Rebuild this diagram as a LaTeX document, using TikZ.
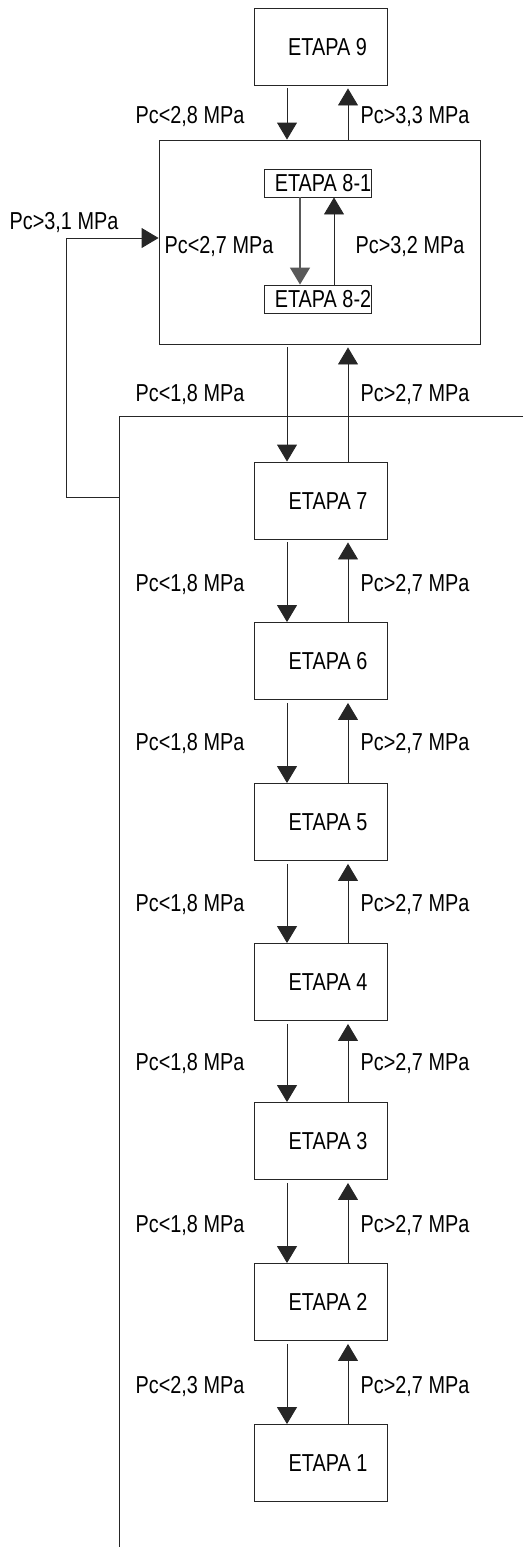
\documentclass[tikz,border=0pt]{standalone}
\usepackage{fontspec}
\setmainfont{Liberation Sans}[FakeStretch=0.81]
\usetikzlibrary{arrows.meta,calc}
\begin{document}
\begin{tikzpicture}[x=1pt,y=-1pt,
  ln/.style={line width=0.9pt,draw=black!85},
  stage/.style={ln,minimum width=133pt,minimum height=77pt,inner sep=0pt,
    text height=17pt,text depth=0pt},
  substage/.style={ln,minimum width=106pt,minimum height=28pt,inner sep=0pt,
    text height=17pt,text depth=0pt},
  lbl/.style={inner sep=0pt,text height=17pt,text depth=0pt},
  arr/.style={ln,-{Triangle[width=20pt,length=17pt]}},
  font=\fontsize{24.5}{27}\selectfont]
\useasboundingbox (0,0) rectangle (523,1547);

% columns of the down and up transitions
\coordinate (dn) at (287,0);
\coordinate (up) at (348,0);

% stages
\node[stage] (e9) at (320.5,46.5) {\hspace*{14pt}ETAPA 9};
\node[ln,minimum width=321pt,minimum height=204pt,inner sep=0pt] (e8) at (319.5,242) {};
\node[substage] (e81) at (318,183) {\hspace*{10pt}ETAPA 8-1};
\node[substage] (e82) at (318,299) {\hspace*{10pt}ETAPA 8-2};
\node[stage] (e7) at (320.5,500.5) {\hspace*{15pt}ETAPA 7};
\node[stage] (e6) at (320.5,661) {\hspace*{15pt}ETAPA 6};
\node[stage] (e5) at (320.5,822) {\hspace*{15pt}ETAPA 5};
\node[stage] (e4) at (320.5,982) {\hspace*{15pt}ETAPA 4};
\node[stage] (e3) at (320.5,1141) {\hspace*{15pt}ETAPA 3};
\node[stage] (e2) at (320.5,1302) {\hspace*{15pt}ETAPA 2};
\node[stage] (e1) at (320.5,1463) {\hspace*{15pt}ETAPA 1};

% transitions between stages
\foreach \hi/\lo/\y/\dlab/\ulab in {
  e9/e8/115/Pc<2{,}8 MPa/Pc>3{,}3 MPa,
  e8/e7/393/Pc<1{,}8 MPa/Pc>2{,}7 MPa,
  e7/e6/583/Pc<1{,}8 MPa/Pc>2{,}7 MPa,
  e6/e5/742/Pc<1{,}8 MPa/Pc>2{,}7 MPa,
  e5/e4/903/Pc<1{,}8 MPa/Pc>2{,}7 MPa,
  e4/e3/1062/Pc<1{,}8 MPa/Pc>2{,}7 MPa,
  e3/e2/1224/Pc<1{,}8 MPa/Pc>2{,}7 MPa,
  e2/e1/1385/Pc<2{,}3 MPa/Pc>2{,}7 MPa}{
  \draw[arr,shorten <=3pt] (\hi.south -| dn) -- (\lo.north -| dn);
  \draw[arr,shorten >=3pt] (\lo.north -| up) -- (\hi.south -| up);
  \node[lbl] (d-\lo) at (190,\y) {\dlab};
  \node[lbl] (u-\lo) at (415,\y) {\ulab};
}

% inner transitions of stage 8
\coordinate (idn) at (300,0);
\coordinate (iup) at (334,0);
\draw[arr,line width=1.4pt,draw=black!65] (e81.south -| idn) -- (e82.north -| idn);
\draw[arr] (e82.north -| iup) -- (e81.south -| iup);
\node[lbl] (d-e82) at (219,245) {Pc<2,7 MPa};
\node[lbl] (u-e82) at (410,245) {Pc>3,2 MPa};

% pressure bus and return to stage 8
\coordinate (busEnd) at (523,416);
\coordinate (busTop) at (119.5,416);
\coordinate (busBot) at (119.5,1547);
\draw[ln] (busEnd) -- (busTop) -- (busBot);
\coordinate (fbTap) at (119.5,497);
\coordinate (fbCorner) at (66,497);
\draw[arr] (fbTap) -- (fbCorner) |- ($(e8.west)+(0,-4)$);
\node[lbl] (fb) at (64,221) {Pc>3,1 MPa};
\end{tikzpicture}
\end{document}
